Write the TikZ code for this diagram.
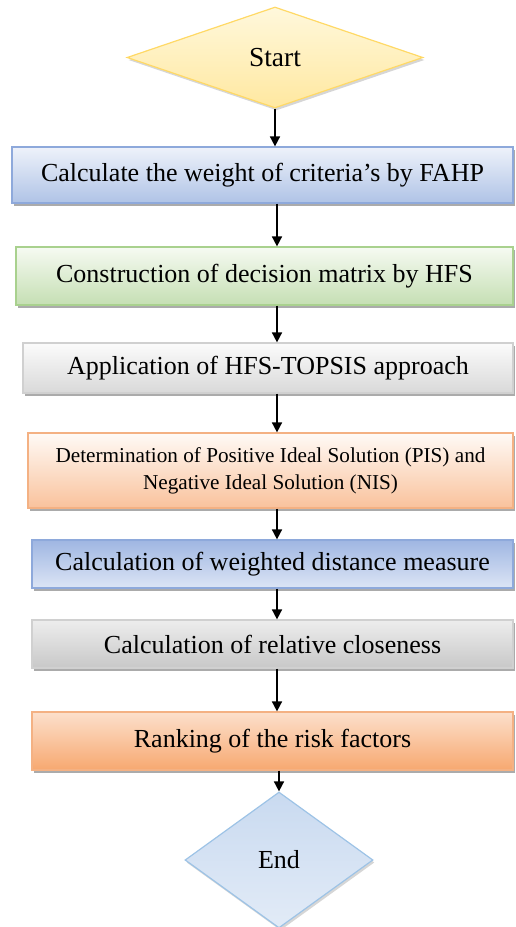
\documentclass[tikz,border=0pt]{standalone}
\usepackage{fontspec}
\setmainfont{Liberation Serif}
\usetikzlibrary{shapes.geometric,arrows.meta,shadows}

\definecolor{startfillA}{HTML}{FFF8DC}
\definecolor{startfillB}{HTML}{FFE8A0}
\definecolor{startline}{HTML}{FFD966}
\definecolor{blueA}{HTML}{EEF2FA}
\definecolor{blueB}{HTML}{AFC3E6}
\definecolor{blueline}{HTML}{8EA9DB}
\definecolor{greenA}{HTML}{F6FAF2}
\definecolor{greenB}{HTML}{C5DFB3}
\definecolor{greenline}{HTML}{A9D18E}
\definecolor{grayA}{HTML}{FBFBFB}
\definecolor{grayB}{HTML}{D9D9D9}
\definecolor{grayline}{HTML}{D0D0D0}
\definecolor{orangeA}{HTML}{FFFAF6}
\definecolor{orangeB}{HTML}{F9C29C}
\definecolor{orangeline}{HTML}{F4B183}
\definecolor{bluedA}{HTML}{9FB6E2}
\definecolor{bluedB}{HTML}{DCE5F5}
\definecolor{graydA}{HTML}{EDEDED}
\definecolor{graydB}{HTML}{C8C8C8}
\definecolor{orangedA}{HTML}{FCE0CC}
\definecolor{orangedB}{HTML}{F7A870}
\definecolor{endfillA}{HTML}{C9DAF0}
\definecolor{endfillB}{HTML}{E2EBF7}
\definecolor{endline}{HTML}{9DC3E6}

\tikzset{
  x=1pt, y=1pt,
  flowbox/.style={rectangle, inner sep=0pt, line width=1.2pt, align=center,
    font=\fontsize{26}{30}\selectfont,
    drop shadow={shadow xshift=1.5pt, shadow yshift=-3pt, fill=black!55, opacity=0.6}},
  decision/.style={diamond, inner sep=0pt, line width=1.2pt,
    drop shadow={shadow xshift=1.5pt, shadow yshift=-2.5pt, fill=black!40, opacity=0.4}},
  flowarrow/.style={line width=1.6pt, -{Triangle[width=10pt,length=10pt]}}
}

\begin{document}
\begin{tikzpicture}
  \useasboundingbox (0,0) rectangle (515,-927);

  % terminal shapes
  \node[decision, minimum width=296pt, minimum height=101pt,
        draw=startline, top color=startfillA, bottom color=startfillB,
        font=\fontsize{27.5}{30}\selectfont] (start) at (275,-57.5) {Start};

  % process steps
  \node[flowbox, minimum width=501pt, minimum height=56pt,
        draw=blueline, top color=blueA, bottom color=blueB] (b1) at (262.5,-175)
        {Calculate the weight of criteria’s by FAHP};
  \node[flowbox, minimum width=497pt, minimum height=58pt,
        draw=greenline, top color=greenA, bottom color=greenB] (b2) at (264.5,-276)
        {Construction of decision matrix by HFS};
  \node[flowbox, minimum width=490pt, minimum height=50pt,
        draw=grayline, top color=grayA, bottom color=grayB] (b3) at (268,-368)
        {Application of HFS-TOPSIS approach};
  \node[flowbox, minimum width=485pt, minimum height=75pt,
        draw=orangeline, top color=orangeA, bottom color=orangeB,
        font=\fontsize{21.2}{27}\selectfont] (b4) at (270.5,-470.5)
        {Determination of Positive Ideal Solution (PIS) and\\Negative Ideal Solution (NIS)};
  \node[flowbox, minimum width=481pt, minimum height=48pt,
        draw=blueline, top color=bluedA, bottom color=bluedB] (b5) at (272.5,-564)
        {Calculation of weighted distance measure};
  \node[flowbox, minimum width=481pt, minimum height=48pt,
        draw=grayline, top color=graydA, bottom color=graydB] (b6) at (272.5,-644)
        {Calculation of relative closeness};
  \node[flowbox, minimum width=481pt, minimum height=58pt,
        draw=orangeline, top color=orangedA, bottom color=orangedB] (b7) at (272.5,-741)
        {Ranking of the risk factors};

  \node[decision, minimum width=188pt, minimum height=136pt,
        draw=endline, top color=endfillA, bottom color=endfillB,
        font=\fontsize{26}{30}\selectfont] (end) at (279,-860) {End};

  % vertical flow line
  \coordinate (axis) at (277,0);

  \draw[flowarrow] (start.south) -- (start.south |- b1.north);
  \draw[flowarrow] (b1.south -| axis) -- (b2.north -| axis);
  \draw[flowarrow] (b2.south -| axis) -- (b3.north -| axis);
  \draw[flowarrow] (b3.south -| axis) -- (b4.north -| axis);
  \draw[flowarrow] (b4.south -| axis) -- (b5.north -| axis);
  \draw[flowarrow] (b5.south -| axis) -- (b6.north -| axis);
  \draw[flowarrow] (b6.south -| axis) -- (b7.north -| axis);
  \draw[flowarrow] (b7.south -| end.north) -- (end.north);
\end{tikzpicture}
\end{document}
